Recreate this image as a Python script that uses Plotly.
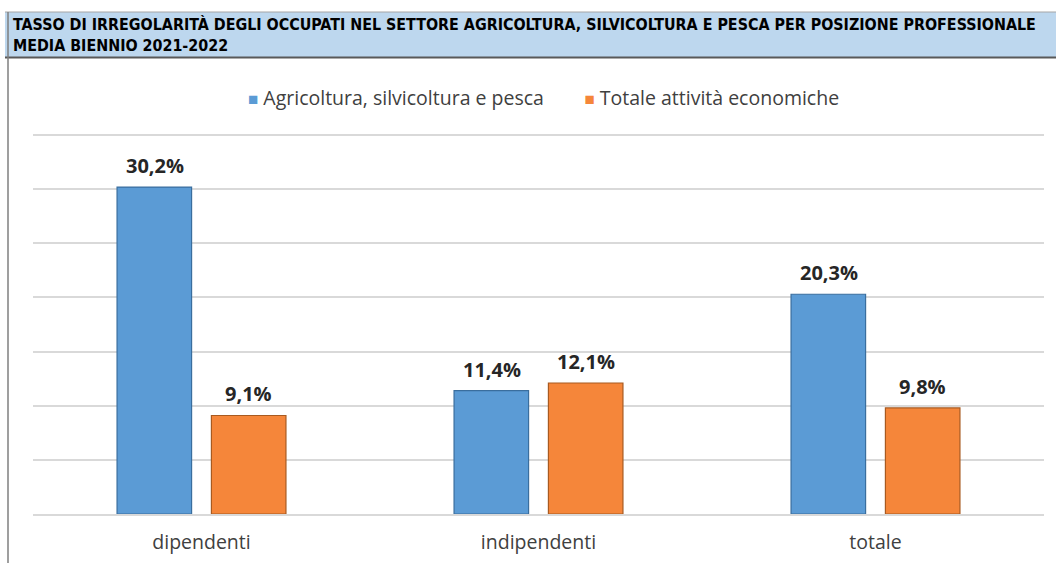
import plotly.graph_objects as go

categories = ["dipendenti", "indipendenti", "totale"]
series_names = ["Agricoltura, silvicoltura e pesca", "Totale attività economiche"]
agri_values = [30.2, 11.4, 20.3]
totale_values = [9.1, 12.1, 9.8]
title_lines = [
    "TASSO DI IRREGOLARITÀ DEGLI OCCUPATI NEL SETTORE AGRICOLTURA, SILVICOLTURA E PESCA PER POSIZIONE PROFESSIONALE",
    "MEDIA BIENNIO 2021-2022",
]

W, H = 1056, 563
ML, MR, MT, MB = 33, 12, 134, 49
PW = W - ML - MR
PH = H - MT - MB

def px_x(px):
    return (px - ML) / PW

def px_y(py):
    return (H - MB - py) / PH

colors = ["#5B9BD5", "#F5863A"]
line_colors = ["#3A6E9E", "#A85A20"]

fmt = lambda v: f"{v:.1f}".replace(".", ",") + "%"

fig = go.Figure()
for name, vals, c, lc in zip(series_names, [agri_values, totale_values], colors, line_colors):
    fig.add_trace(go.Bar(
        x=categories, y=vals, name=name,
        marker=dict(color=c, line=dict(color=lc, width=1.2)),
        hoverinfo="skip", showlegend=False,
    ))

# data labels
for i, vals in enumerate([agri_values, totale_values]):
    shift = -47 if i == 0 else 47
    for cat, v in zip(categories, vals):
        fig.add_annotation(
            x=cat, y=v, xref="x", yref="y", text=fmt(v), showarrow=False,
            xshift=shift, yshift=6, yanchor="bottom",
            font=dict(family="Open Sans", size=20, color="#262626", weight="bold"),
        )

# legend (drawn as text)
sq = lambda c: f"<span style='color:{c};font-size:17px'>■</span>"
legend_text = (f"{sq(colors[0])} {series_names[0]}" + "&nbsp;" * 8 +
               f"{sq(colors[1])} {series_names[1]}")
fig.add_annotation(
    xref="paper", yref="paper", x=px_x(543), y=px_y(97), xanchor="center", yanchor="middle",
    showarrow=False, text=legend_text,
    font=dict(family="Open Sans", size=19.5, color="#404040"),
)

# title bar
fig.add_shape(type="rect", xref="paper", yref="paper",
              x0=px_x(5), x1=px_x(1060), y0=px_y(57), y1=px_y(12),
              fillcolor="#BDD7EE", line=dict(width=0), layer="below")
fig.add_shape(type="line", xref="paper", yref="paper",
              x0=px_x(5), x1=px_x(1060), y0=px_y(12), y1=px_y(12),
              line=dict(color="#A6A6A6", width=1))
fig.add_shape(type="line", xref="paper", yref="paper",
              x0=px_x(5), x1=px_x(1060), y0=px_y(57.5), y1=px_y(57.5),
              line=dict(color="#595959", width=2))
fig.add_shape(type="line", xref="paper", yref="paper",
              x0=px_x(8), x1=px_x(8), y0=px_y(12), y1=px_y(570),
              line=dict(color="#7F7F7F", width=1.5))

fig.add_annotation(
    xref="paper", yref="paper", x=px_x(11), y=px_y(35), xanchor="left", yanchor="middle",
    align="left", showarrow=False, text="<br>".join(title_lines),
    font=dict(family="Liberation Sans Narrow, DejaVu Sans Condensed, Liberation Sans", size=15.9,
              color="#000000", weight="bold"),
)

fig.update_layout(
    width=W, height=H,
    margin=dict(l=ML, r=MR, t=MT, b=MB, autoexpand=False),
    paper_bgcolor="white", plot_bgcolor="white",
    barmode="group", bargap=0.44, bargroupgap=0.21,
    showlegend=False,
    font=dict(family="Open Sans"),
)
fig.update_xaxes(showgrid=False, showline=True, linecolor="#D9D9D9", linewidth=1.5,
                 ticks="", ticklabelstandoff=10,
                 tickfont=dict(family="Open Sans", size=19.5, color="#404040"))
fig.update_yaxes(range=[0, 35.1], tickvals=[5, 10, 15, 20, 25, 30, 35], showgrid=True,
                 gridcolor="#D9D9D9", gridwidth=1.5,
                 showticklabels=False, zeroline=False, ticks="")

fig.write_html("out.html", config={"displayModeBar": False},
               post_script="document.body.style.margin='0';document.body.style.overflow='hidden';")
